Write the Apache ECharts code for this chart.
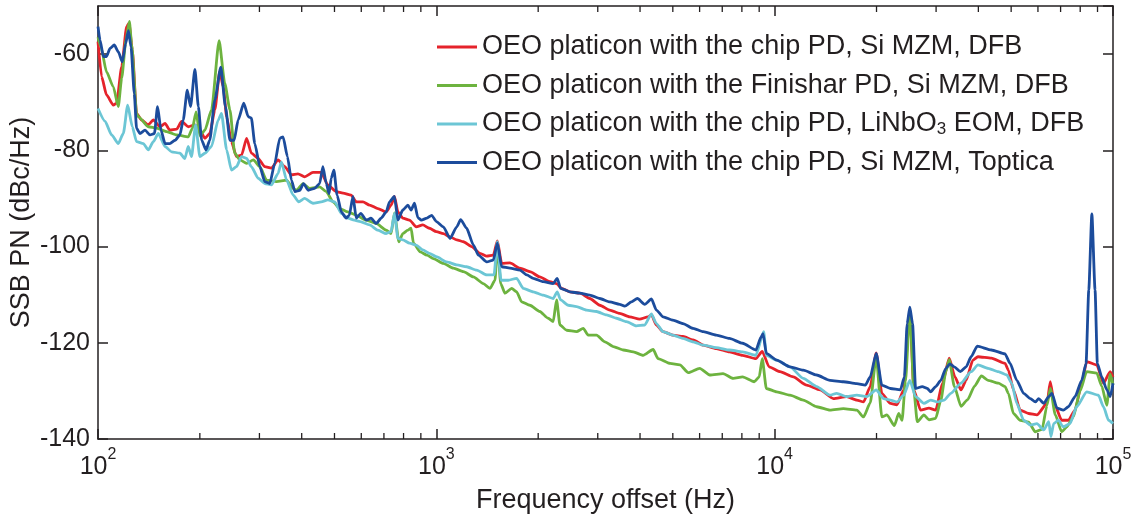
<!DOCTYPE html>
<html>
<head>
<meta charset="utf-8">
<script src="https://cdn.jsdelivr.net/npm/echarts@6/dist/echarts.min.js"></script>
<style>
html,body{margin:0;padding:0;background:#fff;}
#chart{width:1134px;height:520px;}
</style>
</head>
<body>
<div id="chart"></div>
<script>
const seriesNames = [
  'OEO platicon with the chip PD, Si MZM, DFB',
  'OEO platicon with the Finishar PD, Si MZM, DFB',
  'OEO platicon with the chip PD, LiNbO3 EOM, DFB',
  'OEO platicon with the chip PD, Si MZM, Toptica'
];
const xMin = 100, xMax = 100000;
const yMin = -140, yMax = -50, yStep = 20;
const minorTickFreqs = [200,300,400,500,600,700,800,900,2000,3000,4000,5000,6000,7000,8000,9000,20000,30000,40000,50000,60000,70000,80000,90000];

const redData = [[100,-57.4],[102.5,-64.7],[106,-68.5],[111,-70.6],[113.5,-70.2],[117.5,-62.6],[121.5,-54.3],[123.5,-53.6],[126.3,-59.1],[130,-72.3],[134.6,-73.7],[140.8,-74.7],[145.7,-73.7],[152.5,-75.1],[157.8,-74.4],[163,-75.8],[170.8,-75.6],[176.6,-74.0],[184.8,-75.1],[193.4,-74.7],[200,-75.8],[207,-77.5],[214,-76.5],[221.5,-71.6],[229,-63.6],[234.5,-66.8],[240,-73.0],[248,-78.2],[256.6,-81.3],[265.6,-81.0],[275,-77.5],[284,-80.6],[297.4,-81.7],[311,-83.4],[325.5,-83.7],[340.6,-82.0],[356.4,-83.4],[373,-85.1],[390,-84.9],[408,-85.5],[432,-84.6],[457,-84.6],[478,-87.2],[506,-88.6],[530,-88.9],[560,-89.3],[580,-90.7],[607,-90.7],[635,-91.4],[672,-92.1],[711,-92.8],[735,-91.4],[752,-89.6],[770,-92.8],[796,-94.1],[833,-94.5],[872,-95.9],[912,-95.5],[954,-96.2],[1000,-96.9],[1049,-97.3],[1098,-98.0],[1149,-98.6],[1202,-99.0],[1272,-100.0],[1346,-101.4],[1409,-102.0],[1474,-101.8],[1515,-98.8],[1560,-103.5],[1650,-103.4],[1766,-104.5],[1890,-105.2],[2022,-106.3],[2164,-107.3],[2267,-107.7],[2345,-108.7],[2482,-109.4],[2657,-109.7],[2843,-110.8],[3042,-112.2],[3255,-113.2],[3484,-113.9],[3728,-114.6],[3988,-115.1],[4225,-114.6],[4323,-114.2],[4470,-116.3],[4680,-117.7],[5003,-118.4],[5360,-118.7],[5740,-119.4],[6150,-120.5],[6720,-121.2],[7350,-121.9],[8040,-122.6],[8800,-123.3],[9190,-121.8],[9630,-125.0],[10370,-126.0],[11350,-127.1],[12430,-128.8],[13620,-129.8],[14910,-131.6],[16330,-131.2],[17490,-131.9],[18310,-132.3],[19160,-129.1],[19960,-122.1],[20740,-130.5],[21980,-132.6],[22990,-132.9],[24070,-129.8],[25090,-113.2],[25790,-129.8],[26990,-134.0],[28580,-133.6],[29920,-134.0],[31330,-128.4],[32800,-123.2],[34100,-127.1],[35540,-129.8],[36800,-127.8],[38540,-123.6],[39890,-122.9],[43690,-123.2],[47960,-124.3],[49070,-125.7],[50780,-129.8],[53180,-134.0],[56300,-134.7],[59600,-135.0],[63820,-132.6],[65260,-128.1],[67000,-132.6],[70530,-136.1],[73800,-136.1],[77230,-134.0],[80820,-128.4],[83630,-123.9],[89520,-124.6],[93710,-128.4],[98100,-126.0],[100000,-127.1]];

const greenData = [[100,-56.5],[102,-58.5],[106,-63.7],[111,-66.8],[114.8,-70.9],[117.5,-65.0],[121,-57.0],[123.8,-53.2],[125.7,-57.8],[130,-72.3],[131.6,-73.0],[140.8,-75.1],[149,-75.4],[159.5,-76.1],[170.8,-76.8],[184.8,-77.2],[190,-75.5],[195,-72.0],[200,-77.0],[207,-75.8],[216.5,-71.6],[228,-57.2],[237,-66.1],[245.5,-71.6],[253.6,-80.6],[262.6,-82.0],[275,-82.7],[288,-82.0],[301,-83.4],[315,-86.2],[337,-86.5],[361,-86.2],[377,-87.9],[386,-88.3],[403.6,-86.9],[422,-87.9],[452,-87.6],[473,-88.6],[495,-90.7],[518,-92.1],[548,-92.8],[580,-93.5],[621,-94.5],[664,-95.2],[711,-96.6],[735,-97.3],[752,-93.0],[775,-99.0],[796,-97.3],[824,-96.6],[842,-96.2],[856,-99.3],[896,-101.1],[938,-101.8],[980,-102.5],[1049,-103.5],[1123,-104.5],[1202,-105.2],[1287,-106.3],[1377,-107.7],[1440,-108.7],[1491,-107.0],[1515,-99.3],[1550,-107.7],[1596,-109.7],[1670,-108.7],[1727,-109.4],[1787,-111.5],[1890,-112.2],[2022,-113.5],[2140,-114.9],[2215,-115.6],[2267,-111.1],[2319,-116.3],[2427,-117.4],[2597,-117.7],[2718,-117.0],[2810,-118.4],[2975,-118.4],[3150,-119.8],[3335,-120.8],[3570,-121.5],[3820,-121.9],[4085,-122.6],[4373,-121.4],[4523,-123.3],[4907,-124.3],[5245,-124.6],[5556,-126.2],[6005,-125.3],[6430,-126.7],[7040,-126.4],[7540,-127.4],[8040,-127.1],[8700,-128.1],[9000,-127.1],[9190,-123.3],[9450,-129.5],[10140,-130.2],[11100,-130.9],[12150,-131.9],[13310,-133.3],[14570,-134.0],[15960,-133.7],[17490,-134.0],[18310,-135.4],[19160,-132.5],[19960,-123.0],[20740,-135.4],[21470,-135.0],[22580,-137.2],[23260,-134.7],[23800,-136.1],[24360,-128.0],[25090,-113.5],[25790,-130.0],[26390,-136.4],[27620,-135.0],[28580,-136.0],[29920,-135.7],[30970,-132.0],[32060,-126.0],[32800,-123.5],[33950,-129.0],[35540,-133.2],[37200,-131.8],[38980,-129.0],[40830,-126.9],[42740,-127.8],[45810,-128.4],[47960,-129.1],[49070,-130.5],[50780,-134.7],[53180,-136.1],[56300,-136.5],[58930,-138.5],[61700,-138.0],[63820,-133.0],[65260,-129.5],[67530,-135.0],[70530,-138.5],[73000,-137.5],[76360,-135.4],[79920,-130.0],[83630,-126.0],[89520,-126.3],[92630,-129.0],[95900,-133.0],[98100,-126.5],[100000,-128.8]];

const cyanData = [[100,-71.3],[105,-74.0],[109.7,-76.8],[114.8,-78.6],[118.8,-76.5],[122.4,-70.6],[126.3,-75.1],[130,-78.2],[136.2,-78.6],[140.8,-79.9],[145.7,-78.2],[150.8,-76.5],[157.8,-79.2],[165,-80.3],[174.6,-80.6],[180.6,-81.7],[184.8,-79.2],[189,-81.3],[194.3,-74.7],[200,-81.3],[207,-80.6],[216.5,-79.2],[226.6,-73.7],[231.7,-72.3],[240,-79.9],[248,-84.1],[256.6,-83.4],[265.6,-81.3],[275,-81.7],[284,-83.4],[297.4,-85.8],[311,-86.9],[325.5,-87.2],[340.6,-84.8],[348.4,-82.4],[361,-86.2],[377.4,-89.3],[392,-90.7],[408,-90.0],[432,-91.0],[457,-90.7],[478,-90.3],[501,-90.7],[524,-93.1],[548,-94.1],[572,-94.5],[596,-94.8],[635,-95.5],[672,-96.6],[711,-97.3],[735,-96.9],[752,-93.1],[770,-98.3],[796,-98.6],[833,-99.3],[872,-99.7],[912,-100.7],[954,-101.4],[1000,-102.1],[1073,-103.2],[1149,-103.8],[1229,-104.2],[1316,-104.9],[1409,-105.9],[1481,-105.9],[1515,-99.0],[1553,-107.0],[1632,-107.0],[1727,-106.6],[1807,-108.7],[1934,-109.4],[2069,-110.1],[2215,-110.8],[2277,-109.4],[2330,-111.1],[2454,-112.2],[2597,-112.5],[2780,-113.2],[2975,-113.5],[3183,-114.2],[3407,-114.9],[3645,-115.6],[3900,-116.5],[4130,-116.3],[4323,-114.0],[4470,-116.0],[4680,-117.7],[5003,-118.4],[5360,-119.1],[5740,-119.8],[6150,-120.5],[6720,-121.0],[7350,-121.5],[8040,-121.9],[8800,-122.6],[9280,-117.7],[9450,-122.6],[10140,-123.6],[11100,-125.0],[12150,-127.4],[13310,-129.1],[14570,-130.9],[15250,-130.5],[16330,-131.2],[17490,-130.9],[18730,-131.2],[19960,-129.8],[20980,-131.6],[21980,-131.9],[22990,-132.3],[24070,-130.9],[25090,-127.8],[26090,-131.2],[27620,-132.6],[28920,-131.9],[30260,-132.3],[31690,-131.9],[33180,-130.5],[35540,-128.4],[38080,-126.0],[39890,-124.6],[42740,-125.3],[45810,-126.0],[48530,-126.7],[50210,-128.4],[51960,-132.6],[54430,-136.1],[57000,-137.1],[59600,-136.8],[62400,-138.1],[64580,-136.4],[65560,-139.5],[66760,-136.8],[68920,-136.1],[71330,-137.5],[74660,-136.8],[78070,-133.3],[83630,-130.2],[90580,-130.9],[93710,-133.3],[97000,-136.1],[100000,-136.8]];

const blueData = [[100,-54.3],[101.4,-57.1],[103.7,-60.5],[106,-60.5],[108.5,-58.8],[111.7,-58.1],[114.8,-59.5],[118,-61.6],[120.7,-57.8],[123,-55.1],[125.2,-58.5],[128,-68.2],[130,-75.4],[133,-76.5],[137.7,-75.8],[142.5,-76.8],[146.8,-76.5],[150,-70.9],[153.5,-75.8],[157.8,-78.6],[163,-78.6],[169,-77.9],[174.6,-76.8],[178.6,-73.7],[183.6,-67.5],[187.7,-70.9],[193.4,-63.2],[198,-70.9],[202.5,-77.9],[208.5,-79.9],[214,-77.9],[221.5,-69.5],[230.6,-62.7],[238,-70.9],[245.5,-77.9],[252.6,-77.9],[259.5,-73.7],[269.7,-70.2],[278,-73.0],[284,-73.3],[290.7,-78.6],[301,-83.4],[311,-86.5],[321.8,-86.9],[333,-82.7],[344.5,-77.5],[352.4,-77.2],[363,-81.3],[373,-86.2],[382,-88.6],[395,-88.3],[405,-86.9],[418,-88.3],[437,-87.9],[452,-86.9],[462,-83.4],[473,-86.9],[482,-89.0],[489,-85.8],[498,-84.1],[509,-89.3],[524,-92.8],[541,-94.1],[553,-93.5],[567,-89.6],[580,-94.1],[598,-93.1],[621,-94.5],[641,-94.1],[664,-95.2],[687,-94.1],[711,-92.8],[727,-90.7],[752,-89.6],[770,-94.5],[796,-92.4],[824,-91.4],[842,-92.4],[862,-91.0],[882,-94.0],[903,-94.5],[938,-94.1],[969,-93.5],[1000,-94.8],[1049,-95.9],[1098,-98.3],[1149,-95.9],[1180,-94.4],[1229,-96.2],[1287,-99.7],[1332,-101.8],[1409,-103.2],[1474,-102.8],[1515,-99.3],[1560,-104.2],[1650,-104.5],[1766,-104.9],[1850,-105.9],[1934,-106.6],[2069,-107.3],[2215,-107.7],[2277,-106.6],[2330,-108.7],[2482,-109.4],[2657,-109.7],[2843,-110.1],[3042,-110.8],[3255,-111.5],[3484,-112.0],[3605,-112.4],[3773,-111.5],[3928,-110.8],[4130,-112.0],[4323,-110.9],[4470,-113.2],[4680,-114.6],[5003,-115.3],[5360,-116.0],[5740,-117.0],[6150,-117.7],[6720,-118.4],[7350,-119.1],[8040,-120.1],[8800,-121.5],[9120,-118.8],[9240,-118.1],[9450,-122.2],[10140,-123.6],[11100,-125.0],[12150,-125.7],[13310,-126.7],[14570,-127.8],[15960,-128.1],[17490,-128.5],[18520,-128.8],[19160,-127.1],[19960,-122.2],[20740,-128.8],[21980,-129.5],[23530,-129.8],[24180,-127.1],[24640,-116.0],[25090,-112.6],[25560,-116.0],[26090,-129.5],[27310,-129.1],[28260,-129.5],[28920,-130.2],[29920,-129.1],[30970,-127.8],[32060,-125.3],[32950,-124.4],[33950,-125.0],[35380,-126.0],[36800,-125.0],[38080,-122.9],[39700,-120.7],[43690,-121.5],[47960,-122.3],[49640,-124.3],[51960,-127.8],[54430,-130.5],[57000,-131.6],[58930,-132.3],[60300,-131.6],[62400,-132.6],[64580,-131.2],[66000,-130.5],[68300,-133.6],[71330,-134.0],[73800,-133.3],[77230,-131.2],[80820,-127.8],[83250,-124.3],[84800,-109.0],[86600,-93.2],[88500,-109.0],[89900,-124.3],[92630,-127.1],[95900,-129.8],[98100,-131.2],[100000,-128.4]];

const colors = ['#E5232B', '#6DB33F', '#6CC6D5', '#1C4C9C'];
const allData = [redData, greenData, cyanData, blueData];
const axisColor = '#231F20';
const fontFamily = '"Liberation Sans", Arial, Helvetica, sans-serif';

const chart = echarts.init(document.getElementById('chart'), null, {renderer: 'canvas'});

const lineSeries = allData.map((d, i) => ({
  name: seriesNames[i],
  type: 'line',
  data: d,
  showSymbol: false,
  symbol: 'none',
  smooth: 0.2,
  smoothMonotone: 'x',
  lineStyle: {color: colors[i], width: 2.8, join: 'round'},
  itemStyle: {color: colors[i]},
  z: 2 + i,
  animation: false
}));

const minorTickSeries = {
  name: 'minorTicks',
  type: 'custom',
  silent: true,
  clip: false,
  z: 10,
  animation: false,
  data: minorTickFreqs.map(f => [f, yMin]),
  renderItem: function (params, api) {
    const f = api.value(0);
    const b = api.coord([f, yMin]);
    const t = api.coord([f, yMax]);
    const st = {stroke: axisColor, lineWidth: 1.3};
    return {
      type: 'group',
      children: [
        {type: 'line', shape: {x1: b[0], y1: b[1], x2: b[0], y2: b[1] - 6}, style: st},
        {type: 'line', shape: {x1: t[0], y1: t[1], x2: t[0], y2: t[1] + 6}, style: st}
      ]
    };
  }
};

const option = {
  backgroundColor: '#ffffff',
  animation: false,
  textStyle: {fontFamily: fontFamily, color: axisColor},
  grid: {left: 98, right: 21, top: 6, bottom: 81, containLabel: false, outerBoundsMode: 'none'},
  legend: {
    data: seriesNames,
    orient: 'vertical',
    left: 437,
    top: 33,
    padding: 0,
    itemWidth: 40,
    itemHeight: 3,
    itemGap: 10.5,
    icon: 'rect',
    selectedMode: false,
    formatter: function (name) {
      if (name === seriesNames[2]) return 'OEO platicon with the chip PD, LiNbO{sub|3} EOM, DFB';
      return name;
    },
    textStyle: {
      fontFamily: fontFamily,
      fontSize: 27,
      color: axisColor,
      lineHeight: 28,
      rich: {
        sub: {fontFamily: fontFamily, fontSize: 17, color: axisColor, verticalAlign: 'bottom', lineHeight: 28}
      }
    }
  },
  xAxis: [{
    type: 'log',
    logBase: 10,
    min: xMin,
    max: xMax,
    position: 'bottom',
    name: 'Frequency offset (Hz)',
    nameLocation: 'middle',
    nameGap: 48,
    nameMoveOverlap: false,
    nameTextStyle: {fontFamily: fontFamily, fontSize: 27, color: axisColor},
    axisLine: {show: true, onZero: false, lineStyle: {color: axisColor, width: 1.5}},
    axisTick: {show: true, inside: true, length: 10, lineStyle: {color: axisColor, width: 1.5}},
    splitLine: {show: false},
    axisLabel: {
      margin: 8,
      formatter: function (v) {
        const e = Math.round(Math.log10(v));
        return '{b|10}{s|' + e + '}';
      },
      rich: {
        b: {fontFamily: fontFamily, fontSize: 25, color: axisColor, lineHeight: 33, verticalAlign: 'bottom'},
        s: {fontFamily: fontFamily, fontSize: 16, color: axisColor, lineHeight: 15, verticalAlign: 'top'}
      }
    }
  }, {
    type: 'log',
    logBase: 10,
    min: xMin,
    max: xMax,
    position: 'top',
    axisLine: {show: true, onZero: false, lineStyle: {color: axisColor, width: 1.5}},
    axisTick: {show: true, inside: true, length: 10, lineStyle: {color: axisColor, width: 1.5}},
    axisLabel: {show: false},
    splitLine: {show: false}
  }],
  yAxis: [{
    type: 'value',
    min: yMin,
    max: yMax,
    interval: yStep,
    position: 'left',
    name: 'SSB PN (dBc/Hz)',
    nameLocation: 'middle',
    nameGap: 63,
    nameMoveOverlap: false,
    nameTextStyle: {fontFamily: fontFamily, fontSize: 27, color: axisColor},
    axisLine: {show: true, onZero: false, lineStyle: {color: axisColor, width: 1.5}},
    axisTick: {show: true, inside: true, length: 10, lineStyle: {color: axisColor, width: 1.5}},
    axisLabel: {margin: 8, fontFamily: fontFamily, fontSize: 25, color: axisColor, showMaxLabel: false},
    splitLine: {show: false}
  }, {
    type: 'value',
    min: yMin,
    max: yMax,
    interval: yStep,
    position: 'right',
    axisLine: {show: true, onZero: false, lineStyle: {color: axisColor, width: 1.5}},
    axisTick: {show: true, inside: true, length: 10, lineStyle: {color: axisColor, width: 1.5}},
    axisLabel: {show: false},
    splitLine: {show: false}
  }],
  series: lineSeries.concat([minorTickSeries])
};

chart.setOption(option);
</script>
</body>
</html>
